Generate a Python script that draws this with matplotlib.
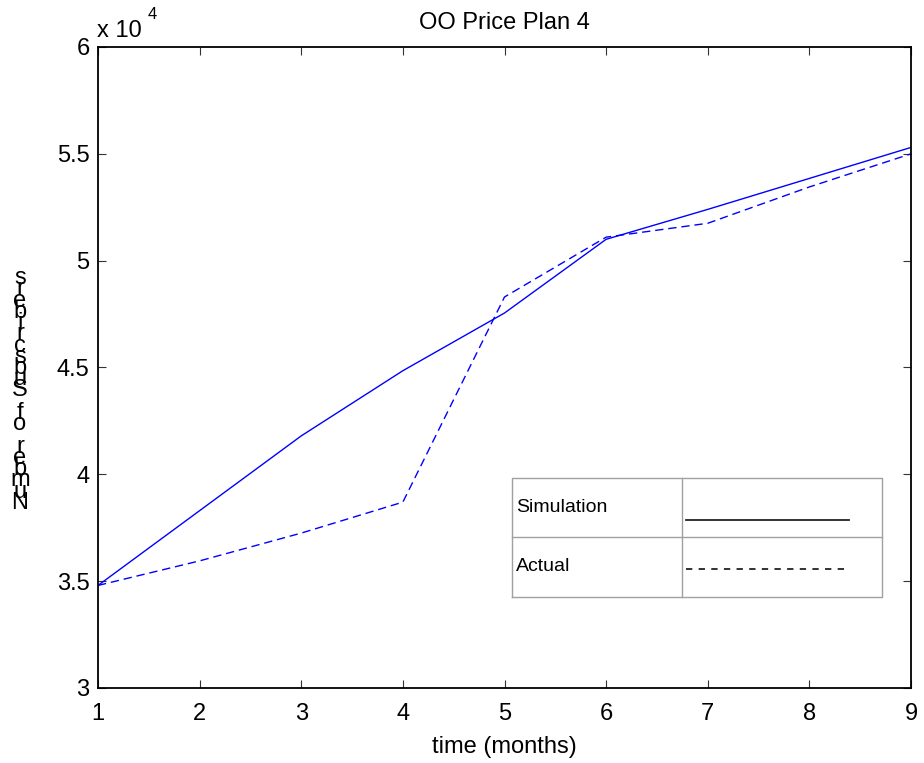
#!/usr/bin/env python3
"""OO Price Plan 4 - simulated vs actual subscribers (MATLAB-look figure)."""

import matplotlib
matplotlib.use("Agg")
import matplotlib.pyplot as plt
from matplotlib.ticker import FuncFormatter

plt.rcParams["font.family"] = ["Liberation Sans", "DejaVu Sans"]

# ─── data ─────────────────────────────────────────────────────────────────────

months_sim = [1, 3, 4, 5, 6, 7, 8, 9]
simulation = [34800, 41800, 44850, 47550, 51000, 52400, 53850, 55300]

months_act = [1, 2, 3, 4, 5, 6, 7, 8, 9]
actual     = [34800, 35950, 37250, 38700, 48300, 51100, 51750, 53450, 55000]

x_ticks = [1, 2, 3, 4, 5, 6, 7, 8, 9]
y_ticks = [30000, 35000, 40000, 45000, 50000, 55000, 60000]

title  = "OO Price Plan 4"
xlabel = "time (months)"
ylabel = "Number of Subscribers"
legend_rows = [("Simulation", "-"), ("Actual", "--")]

# ─── figure ───────────────────────────────────────────────────────────────────

W, H = 924, 763
fig = plt.figure(figsize=(W / 100, H / 100), dpi=100)
ax = fig.add_axes([98 / W, 1 - 688 / H, 813 / W, 641 / H])

ax.plot(months_sim, simulation, color="#0000ff", lw=1.0, ls="-")
ax.plot(months_act, actual, color="#0000ff", lw=1.0, ls=(0, (6, 3.5)))

ax.set_xlim(1, 9)
ax.set_ylim(30000, 60000)
ax.set_xticks(x_ticks)
ax.set_yticks(y_ticks)
ax.yaxis.set_major_formatter(FuncFormatter(lambda v, _: f"{v / 1e4:g}"))

ax.tick_params(direction="in", length=6, width=0.8, labelsize=17,
               top=True, right=True, color="#333333")
ax.tick_params(axis="x", pad=11)
ax.tick_params(axis="y", pad=6)
for sp in ax.spines.values():
    sp.set_linewidth(1.3)

ax.set_title(title, fontsize=17, pad=13)
ax.set_xlabel(xlabel, fontsize=17, labelpad=8)

# exponent label, MATLAB style
fig.text(97 / W, 1 - 37 / H, "x 10", fontsize=17, ha="left", va="baseline")
fig.text(148 / W, 1 - 19 / H, "4", fontsize=12, ha="left", va="baseline")

# the y label came out as upright letters piled bottom-to-top
step = 11.25
for i, ch in enumerate(ylabel):
    if ch == " ":
        continue
    fig.text(20 / W, 1 - (503 - i * step) / H, ch, fontsize=17,
             ha="center", va="center")

# ─── table-like legend ────────────────────────────────────────────────────────

x0, x1, xm = 0.509, 0.964, 0.718
y0, y1, ym = 0.142, 0.328, 0.2356
grid_kw = dict(color="#a0a0a0", lw=1.0, transform=ax.transAxes)
ax.plot([x0, x1, x1, x0, x0], [y0, y0, y1, y1, y0], **grid_kw)
ax.plot([x0, x1], [ym, ym], **grid_kw)
ax.plot([xm, xm], [y0, y1], **grid_kw)

line_y = [0.262, 0.186]
text_y = [0.281, 0.189]
for (name, style), ly, ty in zip(legend_rows, line_y, text_y):
    ax.text(0.514, ty, name, transform=ax.transAxes,
            fontsize=14, ha="left", va="center")
    ax.plot([0.723, 0.924], [ly, ly], color="#222222", lw=1.3,
            ls="-" if style == "-" else (0, (3.5, 3.5)),
            transform=ax.transAxes)

fig.savefig("out.png", dpi=100)
